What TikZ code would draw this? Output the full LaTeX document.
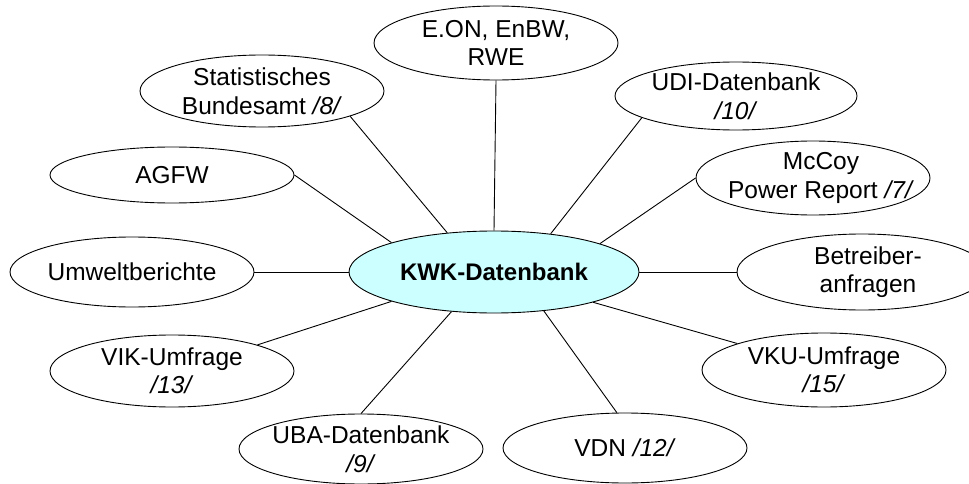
\documentclass[tikz,border=0pt]{standalone}
\usepackage{fontspec}
\setmainfont{Liberation Sans}
\usetikzlibrary{shapes.geometric}
\definecolor{kwkfill}{HTML}{CCFFFF}
\begin{document}
\begin{tikzpicture}[x=1pt,y=-1pt,
  ell/.style={draw,ellipse,inner sep=0pt,line width=0.9pt},
  lbl/.style={align=center,inner sep=0pt,font=\fontsize{24.5}{28.5}\selectfont},
  link/.style={line width=0.9pt}]
\useasboundingbox (0,0) rectangle (969,484);
% ellipses
\node[ell,minimum width=290pt,minimum height=82pt,fill=kwkfill] (kwk) at (494,272) {};
\node[ell,minimum width=244pt,minimum height=74pt] (eon) at (496,43) {};
\node[ell,minimum width=244pt,minimum height=72pt] (stat) at (262,91) {};
\node[ell,minimum width=242pt,minimum height=68pt] (udi) at (736,96) {};
\node[ell,minimum width=234pt,minimum height=74pt] (mcc) at (813,178) {};
\node[ell,minimum width=244pt,minimum height=56pt] (agfw) at (172,175) {};
\node[ell,minimum width=244pt,minimum height=70pt] (umw) at (132,272) {};
\node[ell,minimum width=250pt,minimum height=76pt] (betr) at (862,272) {};
\node[ell,minimum width=244pt,minimum height=72pt] (vik) at (172,371) {};
\node[ell,minimum width=244pt,minimum height=70pt] (uba) at (361,449) {};
\node[ell,minimum width=244pt,minimum height=70pt] (vdn) at (625,448) {};
\node[ell,minimum width=244pt,minimum height=74pt] (vku) at (824,370) {};
% texts
\node[lbl,font=\fontsize{24}{28}\selectfont\bfseries] (tkwk) at (kwk) {KWK-Datenbank};
\node[lbl] (teon) at (eon) {E.ON, EnBW,\\RWE};
\node[lbl] (tstat) at (stat) {Statistisches\\Bundesamt \textit{/8/}};
\node[lbl] (tudi) at (udi) {UDI-Datenbank\\\textit{/10/}};
\node[lbl] (tmcc) at ([xshift=8pt]mcc.center) {McCoy\\Power Report \textit{/7/}};
\node[lbl] (tagfw) at (agfw) {AGFW};
\node[lbl] (tumw) at (umw) {Umweltberichte};
\node[lbl] (tbetr) at ([xshift=6pt]betr.center) {Betreiber-\\anfragen};
\node[lbl] (tvik) at (vik) {VIK-Umfrage\\\textit{/13/}};
\node[lbl] (tuba) at (uba) {UBA-Datenbank\\\textit{/9/}};
\node[lbl] (tvdn) at (vdn) {VDN \textit{/12/}};
\node[lbl] (tvku) at (vku) {VKU-Umfrage\\\textit{/15/}};
% connectors
\draw[link] (stat.-16) -- (kwk.140.6);
\draw[link] (eon.270) -- (kwk.90);
\draw[link] (udi.193) -- (kwk.34.4);
\draw[link] (mcc.180) -- (kwk.15.3);
\draw[link] (agfw.0) -- (kwk.164);
\draw[link] (umw.0) -- (kwk.180);
\draw[link] (betr.180) -- (kwk.0);
\draw[link] (vik.17.6) -- (kwk.196.6);
\draw[link] (uba.90) -- (kwk.223);
\draw[link] (vdn.103) -- (kwk.322);
\draw[link] (vku.163.4) -- (kwk.343.7);
\end{tikzpicture}
\end{document}
